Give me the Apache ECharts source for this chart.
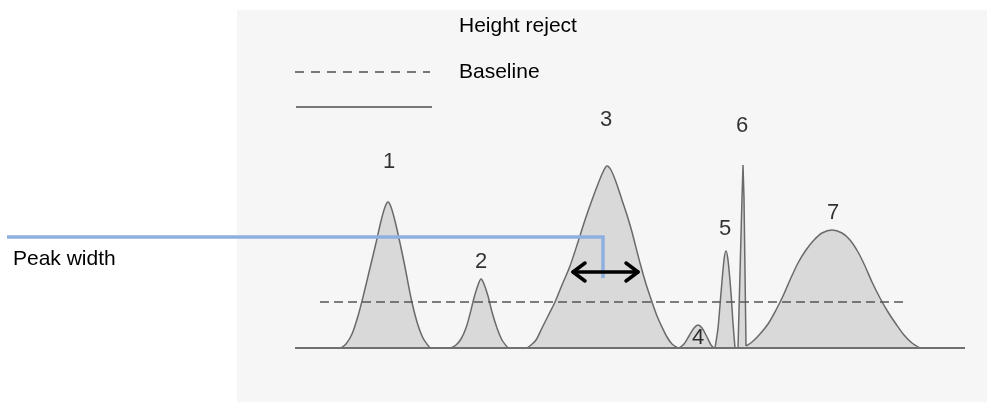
<!DOCTYPE html>
<html>
<head>
<meta charset="utf-8">
<script src="https://cdn.jsdelivr.net/npm/echarts@6/dist/echarts.min.js"></script>
<style>
  html, body { margin: 0; padding: 0; background: #fff; }
  #chart { width: 987px; height: 402px; }
</style>
</head>
<body>
<div id="chart"></div>
<script>
// x = horizontal position, h = height above the baseline (same units on both axes)
const peak1 = [[341, 0], [346, 4], [352, 14], [358, 32], [364, 55], [370, 80], [376, 105], [381, 127], [385, 141], [388, 146], [391, 141], [395, 127], [400, 105], [405, 81], [411, 50], [417, 26], [423, 10], [430, 0]];
const peak2 = [[451, 0], [456, 3], [461, 9], [466, 20], [470, 34], [474, 50], [478, 63], [481, 69], [484, 64], [488, 52], [492, 36], [497, 20], [502, 8], [508, 0]];
const peak3 = [[527, 0], [531, 3], [536, 8], [542, 20], [548, 32], [555, 46], [562, 63], [570, 82], [578, 106], [585, 128], [592, 148], [598, 164], [603, 176], [607, 182], [611, 178], [616, 166], [622, 148], [627, 133], [632, 116], [640, 85], [646, 64], [652, 46], [657, 32], [662, 21], [667, 11], [672, 4], [678, 0]];
const peak4 = [[679, 0], [684, 4], [689, 12], [694, 20], [698, 23], [702, 20], [707, 11], [711, 3], [714, 0]];
const peak5 = [[715, 0], [718, 20], [721, 55], [724, 88], [726, 97], [728, 88], [731, 55], [733, 25], [735, 0]];
const peak6 = [[738, 0], [742, 150], [743, 183], [744, 150], [746, 2]];
const peak7 = [[746, 2], [752, 6], [760, 14], [768, 24], [776, 38], [783, 52], [790, 68], [798, 85], [806, 98], [814, 108], [822, 115], [832, 118], [842, 115], [850, 108], [858, 96], [865, 82], [872, 66], [880, 50], [888, 36], [896, 24], [904, 13], [912, 5], [920, 0]];

const peakNames = ['1', '2', '3', '4', '5', '6', '7'];
const peakLabelX = [389, 481, 606, 698, 725, 742, 833];
const peakLabelH = [186, 86, 228, 10, 119, 222, 135];

const baselineX = [295, 965];
const rejectX = [320, 903];
const rejectH = 46;

const widthPointer = [[7, 111], [603, 111], [603, 70]];
const arrowX = [573, 638];
const arrowH = 76;

const peaks = [peak1, peak2, peak3, peak4, peak5, peak6, peak7];

const chart = echarts.init(document.getElementById('chart'));
const font = 'Liberation Sans, Arial, sans-serif';
const headLen = 12, headHalf = 9;

const option = {
  animation: false,
  grid: { left: 0, right: 0, top: 0, bottom: 0 },
  xAxis: { type: 'value', min: 0, max: 987, show: false },
  yAxis: { type: 'value', min: -54, max: 348, show: false },
  graphic: [
    { type: 'rect', z: -10, shape: { x: 237, y: 10, width: 750, height: 392 }, style: { fill: '#f6f6f6' } },
    { type: 'line', shape: { x1: 295, y1: 72, x2: 430, y2: 72 }, style: { stroke: '#777', lineWidth: 1.8, lineDash: [9, 7] } },
    { type: 'line', shape: { x1: 296, y1: 107, x2: 432, y2: 107 }, style: { stroke: '#777', lineWidth: 2.2 } },
    { type: 'text', x: 459, y: 26, style: { text: 'Height reject', font: '21px ' + font, fill: '#000', verticalAlign: 'middle' } },
    { type: 'text', x: 459, y: 72, style: { text: 'Baseline', font: '21px ' + font, fill: '#000', verticalAlign: 'middle' } },
    { type: 'text', x: 13, y: 259, style: { text: 'Peak width', font: '21px ' + font, fill: '#000', verticalAlign: 'middle' } }
  ],
  series: [
    ...peaks.map((p, i) => ({
      type: 'line',
      data: p,
      smooth: i === 5 ? false : 0.3,
      symbol: 'none',
      z: 2,
      lineStyle: { color: '#6a6a6a', width: 1.5 },
      areaStyle: { color: '#d9d9d9', opacity: 1 }
    })),
    {
      type: 'line',
      data: baselineX.map(x => [x, 0]),
      symbol: 'none',
      z: 3,
      lineStyle: { color: '#707070', width: 2 }
    },
    {
      type: 'line',
      data: rejectX.map(x => [x, rejectH]),
      symbol: 'none',
      z: 3,
      lineStyle: { color: '#555', width: 1.6, type: [9, 5] }
    },
    {
      type: 'line',
      data: widthPointer,
      symbol: 'none',
      z: 4,
      lineStyle: { color: '#8db0de', width: 3.5, cap: 'butt', join: 'miter' }
    },
    {
      type: 'lines',
      coordinateSystem: 'cartesian2d',
      polyline: true,
      z: 5,
      lineStyle: { color: '#000', width: 3.5, opacity: 1, cap: 'round', join: 'round' },
      data: [
        { coords: [[arrowX[0], arrowH], [arrowX[1], arrowH]] },
        { coords: [[arrowX[0] + headLen, arrowH + headHalf], [arrowX[0], arrowH], [arrowX[0] + headLen, arrowH - headHalf]] },
        { coords: [[arrowX[1] - headLen, arrowH + headHalf], [arrowX[1], arrowH], [arrowX[1] - headLen, arrowH - headHalf]] }
      ]
    },
    {
      type: 'scatter',
      symbolSize: 0,
      z: 6,
      data: peakNames.map((n, i) => ({ name: n, value: [peakLabelX[i], peakLabelH[i]] })),
      label: {
        show: true,
        position: 'inside',
        formatter: '{b}',
        color: '#000',
        fontSize: 22,
        fontFamily: font
      }
    }
  ]
};

chart.setOption(option);
</script>
</body>
</html>
